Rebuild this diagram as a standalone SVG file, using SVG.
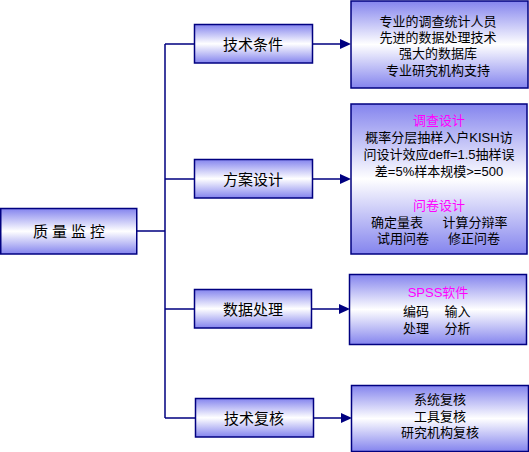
<svg xmlns="http://www.w3.org/2000/svg" width="529" height="452" viewBox="0 0 529 452" lang="zh-CN" xml:lang="zh-CN">
<style>
.box{stroke:#000080;stroke-width:1.5;fill:url(#g)}
.ln{stroke:#000080;stroke-width:1.5;fill:none}
.ah{fill:#000080}
text{font-family:"Liberation Sans","Noto Sans CJK SC",sans-serif;fill:#000;dominant-baseline:central}
.lbl{font-size:15px;text-anchor:middle}
.det{font-size:13px;text-anchor:middle}
.mg{fill:#ff00ff}
</style>
<defs>
<linearGradient id="g" x1="0" y1="0" x2="0" y2="1">
<stop offset="0" stop-color="#8484ee"/>
<stop offset="0.5" stop-color="#ffffff"/>
<stop offset="1" stop-color="#8484ee"/>
</linearGradient>
</defs>
<rect width="529" height="452" fill="#fff"/>
<g id="connectors">
<path class="ln" d="M137,231H165M165,44V418M165,44H194M165,179H194M165,309H194M165,418H195"/>
<path class="ln" d="M313,44H342M313,179H342M312,309H340M314,418H342"/>
<polygon class="ah" points="340,39 351,44 340,49"/>
<polygon class="ah" points="340,174 351,179 340,184"/>
<polygon class="ah" points="339,304 350,309 339,314"/>
<polygon class="ah" points="341,413 352,418 341,423"/>
</g>
<g id="n-root">
<rect class="box" x="0.75" y="208.5" width="136" height="45.5"/>
<text class="lbl" x="71" y="231" letter-spacing="4">质量监控</text>
</g>
<g id="n-jishu">
<rect class="box" x="194.5" y="24.5" width="118" height="38.5"/>
<text class="lbl" x="253" y="44">技术条件</text>
</g>
<g id="n-fangan">
<rect class="box" x="194.5" y="159.5" width="118" height="38.5"/>
<text class="lbl" x="253" y="179">方案设计</text>
</g>
<g id="n-shuju">
<rect class="box" x="194.5" y="289.5" width="117" height="38.5"/>
<text class="lbl" x="253" y="309">数据处理</text>
</g>
<g id="n-fuhe">
<rect class="box" x="195.5" y="398.5" width="118" height="38.5"/>
<text class="lbl" x="254" y="418">技术复核</text>
</g>
<g id="d-jishu">
<rect class="box" x="351" y="1" width="177" height="87"/>
<text class="det" x="438" y="21">专业的调查统计人员</text>
<text class="det" x="438" y="37.5">先进的数据处理技术</text>
<text class="det" x="438" y="53.5">强大的数据库</text>
<text class="det" x="438" y="70">专业研究机构支持</text>
</g>
<g id="d-fangan">
<rect class="box" x="351" y="104" width="176" height="150"/>
<text class="det mg" x="439" y="120">调查设计</text>
<text class="det" x="439" y="137.5">概率分层抽样入户KISH访</text>
<text class="det" x="439" y="154.5">问设计效应deff=1.5抽样误</text>
<text class="det" x="439" y="171">差=5%样本规模&gt;=500</text>
<text class="det mg" x="439" y="205.5">问卷设计</text>
<text class="det"><tspan x="397" y="221.5">确定量表</tspan><tspan x="475" y="221.5">计算分辩率</tspan></text>
<text class="det"><tspan x="403" y="237.5">试用问卷</tspan><tspan x="474" y="237.5">修正问卷</tspan></text>
</g>
<g id="d-shuju">
<rect class="box" x="349.5" y="274.5" width="177" height="70"/>
<text class="det mg" x="438" y="292.5">SPSS软件</text>
<text class="det"><tspan x="416" y="310.5">编码</tspan><tspan x="457.5" y="310.5">输入</tspan></text>
<text class="det"><tspan x="416" y="327.5">处理</tspan><tspan x="457.5" y="327.5">分析</tspan></text>
</g>
<g id="d-fuhe">
<rect class="box" x="351.5" y="385.5" width="177" height="66"/>
<text class="det" x="440" y="399.5">系统复核</text>
<text class="det" x="440" y="416">工具复核</text>
<text class="det" x="440" y="432.5">研究机构复核</text>
</g>
</svg>
